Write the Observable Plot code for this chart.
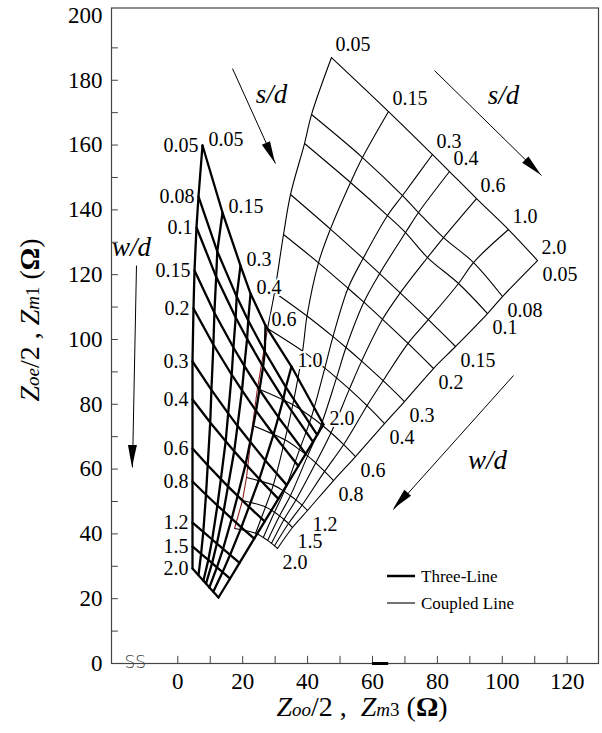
<!DOCTYPE html>
<html><head><meta charset="utf-8">
<script src="https://cdn.jsdelivr.net/npm/d3@7"></script>
<script src="https://cdn.jsdelivr.net/npm/@observablehq/plot@0.6"></script>
<style>body{margin:0;background:#fff} svg{display:block}</style>
</head><body><div id="chart"></div>
<script>
// ---- data ----
const wdValues = ["0.05","0.08","0.1","0.15","0.2","0.3","0.4","0.6","0.8","1.2","1.5","2.0"];
const sdValues = ["0.05","0.15","0.3","0.4","0.6","1.0","2.0"];
const xTicks = [0,20,40,60,80,100,120];
const yTicks = [0,20,40,60,80,100,120,140,160,180,200];
const xMinor = [0,10,20,30,40,50,60,70,80,90,100,110,120];
const yMinor = [10,20,30,40,50,60,70,80,90,100,110,120,130,140,150,160,170,180,190];

// Three-line grid: rows = w/d, columns = s/d  (Zoo/2 axis, Zoe/2 axis)
const threeLineX = [
 [7.61,13.78,19.32,22.41,27.03,35.04,44.90],
 [6.38,12.17,18.15,21.70,26.81,33.29,42.96],
 [5.76,11.83,17.84,21.36,26.29,32.52,41.67],
 [5.15,11.28,17.14,20.50,25.18,31.00,39.42],
 [4.84,10.97,16.61,19.79,24.13,29.50,37.14],
 [4.53,10.36,15.53,18.40,22.31,26.97,33.59],
 [4.53,9.99,14.76,17.38,20.90,25.12,31.00],
 [4.53,9.22,13.28,15.47,18.43,21.94,26.78],
 [4.53,8.69,12.20,14.12,16.61,19.57,23.55],
 [4.53,7.86,10.60,12.05,13.96,16.12,19.02],
 [4.53,7.18,9.40,10.57,12.05,13.81,16.12],
 [4.53,6.38,7.89,8.69,9.74,10.94,12.54]
];
const threeLineY = [
 [159.86,139.18,122.82,114.18,104.31,91.65,73.76],
 [144.12,127.20,113.23,105.85,96.28,85.27,70.55],
 [134.55,119.34,106.78,100.17,91.56,81.66,68.42],
 [121.28,108.26,97.52,91.84,84.49,76.01,64.68],
 [109.55,98.38,89.12,84.28,77.95,70.67,60.95],
 [93.20,84.43,77.18,73.35,68.42,62.68,55.05],
 [81.47,74.40,68.60,65.52,61.53,56.94,50.80],
 [66.35,61.16,56.91,54.65,51.72,48.36,43.85],
 [56.17,52.09,48.76,47.00,44.69,42.03,38.51],
 [43.51,40.64,38.27,37.03,35.40,33.54,31.05],
 [36.11,33.82,31.97,30.98,29.69,28.21,26.23],
 [29.32,27.25,25.55,24.66,23.48,22.16,20.37]
];
// Coupled-line grid
const coupledX = [
 [47.37,64.94,78.50,83.74,92.06,101.92,110.86],
 [41.21,56.92,69.25,74.18,81.89,91.13,100.07],
 [39.05,53.23,64.63,70.18,76.96,86.51,95.45],
 [34.73,47.03,57.11,62.19,68.54,77.20,85.59],
 [32.58,43.36,52.46,57.33,63.09,70.95,78.81],
 [29.80,39.82,47.83,51.84,56.65,63.27,69.87],
 [27.65,38.46,45.31,48.91,52.89,58.31,63.71],
 [24.56,35.44,41.18,44.20,47.22,51.13,54.77],
 [23.02,33.01,37.51,40.00,42.50,45.24,47.99],
 [21.17,29.43,32.82,34.70,36.40,38.28,39.97],
 [19.94,27.03,29.80,31.34,32.73,34.12,35.35],
 [17.48,23.98,26.35,27.68,28.88,29.80,30.73]
];
const coupledY = [
 [187.01,170.35,157.08,151.83,143.50,133.93,124.37],
 [169.42,156.15,144.42,139.18,131.46,123.75,113.26],
 [160.47,148.44,138.25,133.01,125.29,117.27,108.01],
 [144.73,134.06,125.01,120.32,114.37,106.10,97.83],
 [132.39,123.66,115.82,111.50,106.22,98.78,91.04],
 [114.49,107.24,100.88,97.52,93.32,87.27,80.85],
 [103.38,96.41,91.16,88.17,84.68,79.56,74.06],
 [84.87,79.87,76.07,73.76,71.22,67.58,63.88],
 [73.45,69.03,66.01,64.07,61.91,59.28,56.47],
 [57.40,55.05,53.11,51.78,50.49,48.85,47.22],
 [50.30,48.33,46.66,45.55,44.44,43.20,41.97],
 [41.66,40.18,38.88,37.99,37.09,36.32,35.49]
];

// annotations (data coordinates)
const arrowDefs = [
 {x1:16.86,y1:183.6,x2:30.11,y2:154.3},
 {x1:79.11,y1:183.0,x2:112.09,y2:150.6},
 {x1:103.46,y1:88.88,x2:66.48,y2:47.52},
 {x1:-12.73,y1:122.8,x2:-13.96,y2:60.5}
];
const arrowTexts = [
 {x:28.88,y:175.6,t:"s/d"},
 {x:100.38,y:175.3,t:"s/d"},
 {x:95.45,y:62.6,t:"w/d"},
 {x:-14.27,y:128.4,t:"w/d"}
];

// ---- build line tables ----
function rows(X, Y, name) {
  const out = [];
  X.forEach((r, i) => r.forEach((x, j) => out.push({x, y: Y[i][j], k: name + "w" + i})));
  return out;
}
function cols(X, Y, name, from, to) {
  const out = [];
  for (let j = 0; j < sdValues.length; j++)
    for (let i = 0; i < wdValues.length; i++) {
      if (j === 0 && (i < from || i > to)) continue;
      out.push({x: X[i][j], y: Y[i][j], k: name + "s" + j});
    }
  return out;
}
const thickRows = rows(threeLineX, threeLineY, "t");
const thickCols = cols(threeLineX, threeLineY, "t", 0, 11);
const thinRows = rows(coupledX, coupledY, "c");
const thinCols = cols(coupledX, coupledY, "c", 0, 6);
const redLine = [];
for (let i = 6; i < wdValues.length; i++) redLine.push({x: coupledX[i][0], y: coupledY[i][0]});

const thickWdLabels = wdValues.map((t, i) => ({t, x: threeLineX[i][0], y: threeLineY[i][0]}));
const thickSdLabels = sdValues.map((t, j) => ({t, x: threeLineX[0][j], y: threeLineY[0][j]}));
const thinSdLabels = sdValues.map((t, j) => ({t, x: coupledX[0][j], y: coupledY[0][j]}));
const thinWdLabels = wdValues.map((t, i) => ({t, x: coupledX[i][6], y: coupledY[i][6]}));

const FONT = "Liberation Serif, Times New Roman, serif";
const halo = {stroke: "white", strokeWidth: 4, fill: "black", fontSize: 20};

const plot = Plot.plot({
  width: 602, height: 733,
  marginLeft: 111, marginRight: 4, marginTop: 7.5, marginBottom: 70,
  style: {fontFamily: FONT, fontSize: "23px", background: "white", color: "black"},
  x: {domain: [-20.43, 129.65], ticks: xTicks, tickSize: 0, tickPadding: 9, label: null},
  y: {domain: [0, 202.3], ticks: yTicks, tickSize: 0, tickPadding: 9, label: null},
  marks: [
    Plot.frame({stroke: "#444", strokeWidth: 1.2}),
    Plot.ruleX(xMinor, {x: d => d, y1: 0, y2: 2.2, stroke: "#444", strokeWidth: 1}),
    Plot.ruleY(yMinor, {y: d => d, x1: -20.43, x2: -18.3, stroke: "#444", strokeWidth: 1}),
    Plot.ruleY([0], {x1: 60, x2: 65, stroke: "black", strokeWidth: 3}),
    Plot.text(["SS"], {x: -16.4, y: 0, text: d => d, textAnchor: "start", lineAnchor: "bottom", dy: 4, fontFamily: "DejaVu Sans", fontWeight: 300, fontSize: 17, fill: "#444", letterSpacing: 1}),
    // coupled line (thin)
    Plot.line(thinRows, {x: "x", y: "y", z: "k", stroke: "black", strokeWidth: 1.1, curve: "catmull-rom"}),
    Plot.line(thinCols, {x: "x", y: "y", z: "k", stroke: "black", strokeWidth: 1.1, curve: "catmull-rom"}),
    Plot.line(redLine, {x: "x", y: "y", stroke: "#8b1c1c", strokeWidth: 1.1}),
    // three-line (thick)
    Plot.line(thickRows, {x: "x", y: "y", z: "k", stroke: "black", strokeWidth: 2.3}),
    Plot.line(thickCols, {x: "x", y: "y", z: "k", stroke: "black", strokeWidth: 2.3}),
    // labels
    Plot.text(thickWdLabels, {x: "x", y: "y", text: "t", textAnchor: "end", dx: -4, ...halo}),
    Plot.text(thickSdLabels, {x: "x", y: "y", text: "t", textAnchor: "start", dx: 6, dy: -6, ...halo}),
    Plot.text(thinSdLabels, {x: "x", y: "y", text: "t", textAnchor: "start", dx: 4, dy: -13, ...halo}),
    Plot.text(thinWdLabels, {x: "x", y: "y", text: "t", textAnchor: "start", dx: 5, dy: 14, ...halo}),
    // arrows
    Plot.link(arrowDefs, {x1: "x1", y1: "y1", x2: "x2", y2: "y2", stroke: "black", strokeWidth: 1}),
    Plot.text(arrowTexts, {x: "x", y: "y", text: "t", fontStyle: "italic", fontSize: 27, fill: "black"})
  ]
});
document.getElementById("chart").appendChild(plot);

// ---- post: arrow heads, titles, legend ----
const svg = d3.select(plot);
const sx = plot.scale("x"), sy = plot.scale("y");
arrowDefs.forEach(a => {
  const x1 = sx.apply(a.x1), y1 = sy.apply(a.y1), x2 = sx.apply(a.x2), y2 = sy.apply(a.y2);
  const L = Math.hypot(x2 - x1, y2 - y1), ux = (x2 - x1) / L, uy = (y2 - y1) / L;
  const hl = 22, hw = 4.5;
  const bx = x2 - hl * ux, by = y2 - hl * uy;
  svg.append("polygon")
    .attr("points", `${x2},${y2} ${bx - hw * uy},${by + hw * ux} ${bx + hw * uy},${by - hw * ux}`)
    .attr("fill", "black");
});

function title(g, parts, size, sub) {
  const t = g.append("text").attr("text-anchor", "middle").attr("font-family", FONT)
    .attr("font-size", size).attr("fill", "black").style("white-space", "pre");
  parts.forEach(p => {
    const s = t.append("tspan").text(p.t);
    if (p.i) s.attr("font-style", "italic");
    if (p.s) s.attr("font-size", sub);
    if (p.b) s.attr("font-weight", "bold");
  });
  return t;
}
title(svg.append("g").attr("transform", "translate(362,716)"), [
  {t: "Z", i: 1}, {t: "oo", i: 1, s: 1}, {t: "/2 ,  "}, {t: "Z", i: 1}, {t: "m", i: 1, s: 1}, {t: "3", s: 1},
  {t: " ("}, {t: "Ω", b: 1}, {t: ")"}
], 28, 19);
title(svg.append("g").attr("transform", "translate(39,320) rotate(-90)"), [
  {t: "Z", i: 1}, {t: "oe", i: 1, s: 1}, {t: "/2 , "}, {t: "Z", i: 1}, {t: "m", i: 1, s: 1}, {t: "1", s: 1},
  {t: " ("}, {t: "Ω", b: 1}, {t: ")"}
], 28, 19);

const leg = svg.append("g").attr("font-family", FONT).attr("font-size", 17).attr("text-anchor", "start");
[{y: 576, w: 2.5, t: "Three-Line"}, {y: 603, w: 1.1, t: "Coupled Line"}].forEach(d => {
  leg.append("line").attr("x1", 387).attr("x2", 415).attr("y1", d.y).attr("y2", d.y)
    .attr("stroke", "black").attr("stroke-width", d.w);
  leg.append("text").attr("x", 421).attr("y", d.y).attr("dy", "0.35em").attr("text-anchor", "start")
    .attr("fill", "black").text(d.t);
});
</script>
</body></html>
